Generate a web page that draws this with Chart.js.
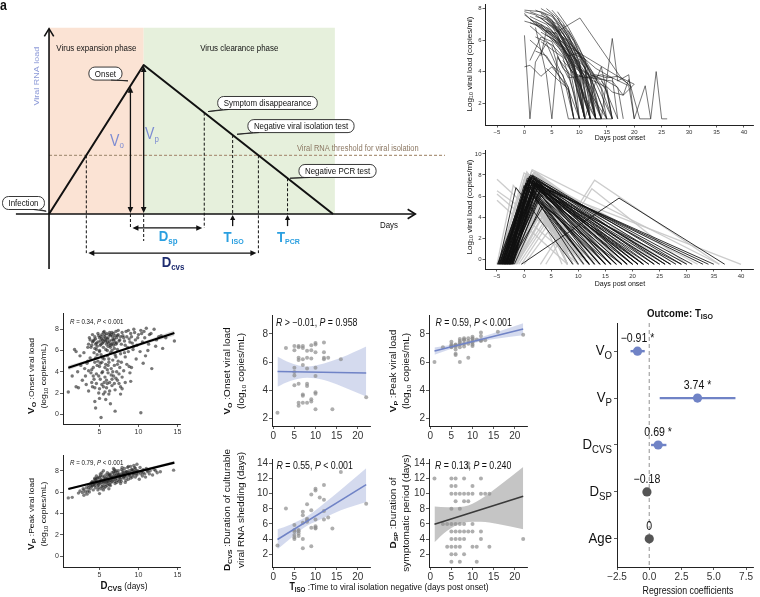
<!DOCTYPE html>
<html lang="en">
<head>
<meta charset="UTF-8">
<title>Viral load dynamics and viral isolation</title>
<style>
  html, body { margin: 0; padding: 0; background: #fff; }
  #fig { position: relative; width: 760px; height: 597px; overflow: hidden; }
  #fig canvas { position: absolute; }
</style>
</head>
<body>
<div id="fig"></div>
<script src="https://cdn.jsdelivr.net/npm/chart.js@4.4.1/dist/chart.umd.min.js"></script>
<script>
// ---------- panel a: schematic ----------
const curveDays = [0, 5, 15];
const curveLoad = [0, 8, 0];
const thresholdLoad = 3.15;
const onsetDay = 4.3, symptomDay = 8.2, isoDay = 9.7, pcrDay = 12.6;
const cvsStartDay = 1.97, cvsEndDay = 11.06;
const phaseTopLoad = 10, clearanceEndDay = 15.1;

// ---------- panel b (top): observed trajectories [day, log10 load] ----------
const observedSeries = [
  [[0,7.9],[3,7.8],[5,7.5],[8,6.2],[10,4.6],[12,1]],
  [[0,7.6],[8,5.6],[17,3.7],[20,3.2]],
  [[0,7.7],[2,7.0],[4,6.4],[7,5.2],[9,3.6],[11,1]],
  [[1,7.3],[3,7.0],[5,6.6],[7,5.5],[9,4.1],[11,1]],
  [[2,7.9],[4,7.6],[6,6.8],[8,5.4],[10,3.2],[12,1]],
  [[2,7.2],[4,6.7],[6,6.1],[9,4.4],[11,2.2],[13,1]],
  [[3,7.7],[5,7.3],[7,6.1],[9,4.5],[11,1]],
  [[3,7.0],[5,6.4],[8,5.0],[10,3.5],[12,1]],
  [[3,6.5],[5,6.1],[7,5.6],[10,4.0],[12,3.0],[14,1]],
  [[4,8.0],[6,7.4],[8,6.3],[10,4.6],[12,1]],
  [[4,7.5],[6,6.6],[8,5.2],[10,3.0],[11,1]],
  [[4,6.8],[6,6.2],[8,5.4],[11,4.0],[13,1]],
  [[5,7.6],[7,6.8],[9,5.3],[11,3.6],[13,1]],
  [[5,7.2],[7,6.0],[9,4.6],[10,1]],
  [[5,6.0],[7,5.5],[9,4.4],[12,3.7],[15,1]],
  [[6,7.4],[8,6.3],[10,4.9],[12,3.5],[14,1]],
  [[6,6.9],[8,5.9],[10,4.2],[12,1]],
  [[1,6.0],[3,5.4],[5,4.4],[7,3.8],[9,1]],
  [[0,4.3],[1,4.4],[3,3.7],[5,4.3],[8,3.0],[9,1]],
  [[0,6.3],[1,1],[2,4.6],[4,5.8],[6,4.2],[8,1]],
  [[1,4.7],[3,6.2],[5,5.9],[7,4.2],[9,3.6],[11,1]],
  [[2,6.8],[4,3.8],[5,1],[6,4.9],[8,4.0],[10,1]],
  [[3,5.0],[4,6.6],[6,6.4],[8,4.4],[10,3.2],[13,1]],
  [[5.3,6.4],[10.1,7.4],[17.4,3.7],[19.5,3.0]],
  [[4,7.1],[7,6.4],[10,5.1],[13,4.2],[16,3.6],[19,3.1],[20,1]],
  [[7,6.2],[9,5.5],[11,4.6],[13,3.7],[15,3.4],[17,3.0],[18,1]],
  [[8,5.1],[10,4.2],[12,3.8],[14,3.5],[16,3.4],[18,2.5],[20,3.2]],
  [[6,5.0],[8,3.6],[10,3.7],[12,3.6],[14,3.5],[17,1]],
  [[9,4.9],[11,4.3],[13,2.8],[15,1]],
  [[10,3.8],[11,1],[13,3.4],[14,4.3],[16,1]],
  [[11,4.4],[13,1],[14,1],[16,6.1],[17,3.4],[19,3.8],[20,1],[22,3.1],[23,1],[24,4.0],[25,1],[26,1]],
  [[2,7.5],[4,7.3],[7,6.5],[9,5.1],[11,4.8],[12,3.4],[14,1]],
  [[1,7.8],[4,7.4],[6,7.0],[8,5.8],[10,4.3],[13,1]],
  [[3,8.0],[5,7.6],[7,6.6],[9,5.7],[11,4.4],[12,1]],
  [[5,7.9],[7,7.1],[9,6.0],[11,4.2],[13,1]],
  [[6,6.1],[8,5.0],[10,5.2],[12,4.0],[14,3.0],[16,1]],
  [[7,4.7],[9,3.9],[11,3.6],[13,3.8],[15,3.6],[17,3.7],[19,3.2]],
  [[8,1],[16,1]],
  [[4,4.2],[6,3.5],[8,2.9],[10,1]],
  [[3,5.9],[5,5.4],[7,4.9],[9,2.6],[10,1]],
  [[12,3.6],[14,3.8],[16,3.6],[17,1]],
  [[10,4.8],[12,3.6],[13,1]],
  [[14,3.4],[16,2.7],[18,2.5],[19,3.5],[21,1],[23,1]],
  [[1,6.9],[3,6.3],[5,5.6],[6,4.4],[8,3.0],[9,1]],
  [[2,5.3],[4,5.0],[6,3.9],[8,2.8],[9,1]],
  [[0,7.8],[2,7.6],[5,6.9],[8,5.0],[10,2.9],[11,1]],
  [[1,7.5],[4,7.0],[6,6.2],[8,4.8],[10,1]],
  [[2,7.0],[5,6.3],[7,5.1],[9,3.8],[11,1]],
  [[3,7.4],[6,6.5],[9,4.8],[12,3.1],[13,1]],
  [[4,7.3],[7,6.2],[9,4.9],[11,3.4],[14,1]],
  [[5,7.0],[8,5.6],[10,4.0],[12,2.6],[15,1]],
  [[0,7.2],[3,6.9],[6,5.8],[9,4.2],[12,1]],
  [[6,7.8],[8,6.8],[10,5.5],[12,3.9],[14,1]],
  [[7,7.0],[9,5.9],[11,4.5],[13,3.3],[16,1]],
  [[2,6.2],[5,5.7],[8,4.6],[10,3.4],[12,1]],
  [[4,6.3],[6,5.9],[9,4.3],[12,3.5],[15,3.0],[16,1]],
  [[1,7.1],[3,6.8],[6,6.0],[9,4.9],[11,3.7],[13,1]],
  [[8,6.6],[10,5.4],[12,4.2],[14,2.9],[15,1]],
  [[3,7.6],[5,7.1],[8,5.7],[10,4.4],[11,1]],
  [[9,5.6],[11,4.5],[13,3.6],[15,2.8],[16,1]]
];

// ---------- panel b (bottom): model curves (start, peak, end) ----------
const modelFloor = -0.5;
const blackStart = [-4.8,-4.5,-4.2,-4,-3.8,-3.5,-3.2,-3,-2.8,-2.5,-4.6,-4.3,-3.9,-3.6,-3.3,-3.1,-2.9,-2.6,-2.3,-2,-4.4,-4.1,-3.7,-3.4,-3,-2.7,-2.4,-2.1,-1.8,-4.7,-3.5,-3.2,-2.8,-2.5,-2.2,-4,-3.6,-3.3,-0.5,-2.7,
  -4.9,-4.4,-4.0,-3.7,-3.4,-3.0,-2.6,-2.2,-4.2,-3.8,-3.5,-3.1,-2.7,-2.4,-4.6];
const blackPeakX = [1.2,1.5,1,0.8,1.8,2,1.5,2.2,1,0.5,1.6,2.4,1.3,0.9,2,2.6,1.1,1.7,2.1,1.4,0,0.3,1.9,2.8,3,1.2,1.8,2.5,3.2,-1.5,2.2,1,3,2,1.6,0.6,2.4,1.4,17.5,3.5,
  1.0,1.8,2.2,0.7,1.3,2.6,1.9,2.4,1.5,0.4,2.0,1.2,2.8,3.1,0.9];
const blackPeakY = [8.0,7.9,7.8,7.6,7.7,7.5,7.3,7.2,7.0,6.8,7.9,7.4,7.6,7.1,6.9,7.0,7.4,7.2,6.6,6.4,7.0,7.2,6.8,6.5,6.2,7.8,6.0,5.6,5.2,6.8,7.3,7.5,6.6,6.9,6.2,7.7,7.1,7.3,5.8,5.0,
  7.9,7.6,7.3,7.5,7.8,6.9,7.1,6.7,8.0,7.2,7.4,7.7,6.4,6.0,7.5];
const blackEnd = [20,24,16,13,28,22,18,33,14,11,26,30,19,12,25,35,17,21,15,10,12,14,23,29,20,31,13,16,18,9,27,22,24,19,15,25,34,21,37,12,
  17,21,19,14,23,26,16,18,29,12,20,15,22,17,27];
const grayStart = [null,null,null,-4.8,-4.5,-4.2,-4,-3.8,-3.5,-3.2,-3,-2.8,-2.5,-2.2,-2,-4.6,-4.4,-4,-3.6,-3.3,-3,-2.6,-2.2,-1.8,-1.5,-4.9,-4.7,-4.3,-3.9,-3.4,-2.9,-2.4,-2,-1.6,-1,-0.5,0,3,4,-3,null,-5,-4.5,-3.5,-2.5,
  -4.9,-4.6,-4.3,-4.1,-3.9,-3.7,-3.4,-3.1,-2.9,-2.7,-2.4,-2.1,-1.9,-4.8,-4.5,-4.2,-3.8,-3.5,-3.2,-3.0,-2.6,-2.3,-2.0,-1.7,-1.3,-4.4,-4.0,-3.6,-3.3,-2.8];
const grayPeakX = [-5,-5,-5,0,1.5,2,0.5,2.5,2.6,2.6,2.4,2.8,2.6,3,2.7,1,1.8,0.2,2.2,1.4,2.6,2.9,3.2,3.5,4,0.8,2,1.2,0.6,1.6,2.6,2.8,3,3.6,4.2,4.5,5,13,12.5,0,-5,-2,2.2,1.8,3,
  0.5,1.2,0.8,1.5,2.0,1.0,1.8,2.3,0.4,1.6,2.5,3.0,2.2,0.2,1.4,0.9,1.7,2.6,2.0,1.1,2.9,3.3,2.4,3.6,4.0,0.7,1.3,2.1,1.9,2.7];
const grayPeakY = [7.6,6.5,6.2,8.2,8.5,8.3,8.0,8.1,5.0,4.9,5.1,4.6,4.8,4.5,5.2,7.5,7.9,7.3,7.0,7.7,5.0,4.7,4.4,4.2,3.8,7.4,7.8,7.2,6.9,8.1,4.9,5.0,4.6,4.3,3.6,3.4,3.0,7.5,6.7,7.5,5.6,7.0,6.5,6.0,5.5,
  8.3,8.1,7.9,8.0,7.8,7.6,8.2,7.4,7.2,7.7,6.8,6.5,7.0,7.9,8.4,8.0,7.5,6.2,6.9,7.3,5.9,5.6,6.4,5.3,4.6,8.1,7.8,7.1,7.4,6.1];
const grayEnd = [12,14,10,30,36,26,22,18,8,9,10,7,11,8,12,20,24,15,16,28,9,10,11,8,9,17,32,19,14,27,12,13,10,11,9,10,8,36,30,40,8,11,9,13,12,
  14,16,12,18,20,11,22,15,10,13,12,11,14,9,25,13,17,10,12,16,9,10,12,9,8,21,15,13,19,11];

// ---------- panel c: D_CVS vs V_O and V_P ----------
const onsetPts = [
  [4.2,6.9],[4.5,7.1],[4.8,6.8],[5.0,7.2],[5.2,6.6],[5.4,7.0],[5.6,7.3],[5.8,6.9],[6.0,7.1],[6.2,6.7],
  [6.4,7.4],[6.6,7.0],[6.8,7.6],[7.0,6.8],[7.2,7.2],[7.4,7.5],[4.0,6.5],[4.4,7.3],[4.7,6.4],[5.1,6.9],
  [5.3,7.5],[5.5,6.3],[5.7,7.0],[5.9,7.6],[6.1,6.4],[6.3,7.7],[6.5,6.6],[6.7,7.3],[6.9,6.2],[7.1,7.8],
  [3.8,7.0],[3.6,6.6],[4.1,7.5],[4.6,6.1],[5.0,6.0],[5.5,7.7],[6.0,6.0],[6.8,6.5],[7.6,7.0],[7.8,6.6],
  [8.0,7.4],[8.2,6.9],[8.4,7.8],[8.6,6.3],[8.8,7.1],[9.0,7.6],[9.2,6.7],[9.4,8.0],[9.6,7.0],[9.8,6.5],
  [10.0,7.5],[10.3,7.9],[10.5,6.8],[10.8,7.2],[11.0,8.1],[11.3,6.6],[11.6,7.6],[12.0,8.0],[12.3,7.0],[12.6,7.3],
  [12.9,7.4],[13.1,6.2],[14.6,6.9],[11.7,4.3],[10.6,4.8],[9.7,5.2],[9.1,4.4],[8.7,5.9],[8.3,5.4],[10.2,5.9],
  [11.2,6.0],[9.3,6.1],[10.9,5.5],[8.9,3.9],[8.5,4.7],[7.9,3.5],
  [3.2,3.6],[3.4,4.8],[3.6,4.1],[3.8,5.3],[4.0,3.0],[4.2,4.4],[4.3,5.8],[4.4,2.5],[4.6,3.8],[4.8,5.0],
  [4.9,2.0],[5.0,4.5],[5.1,3.3],[5.2,5.6],[5.3,2.8],[5.4,4.0],[5.5,1.9],[5.6,5.2],[5.7,3.5],[5.8,4.7],
  [5.9,2.5],[6.0,5.5],[6.1,3.9],[6.2,4.9],[6.3,3.0],[6.4,5.8],[6.5,4.3],[6.6,2.7],[6.7,5.1],[6.8,3.6],
  [6.9,4.6],[7.0,2.3],[7.1,5.4],[7.2,4.0],[7.3,3.2],[7.4,5.0],[7.5,2.9],[7.6,4.4],[7.7,5.7],[7.9,2.4],
  [8.1,4.1],[8.3,3.0],[6.2,1.9],[5.7,2.1],[4.1,2.6],[3.9,3.9],[3.3,2.8],[2.8,3.2],[2.6,4.6],[2.3,2.5],
  [2.0,5.9],[1.8,6.1],[2.5,5.5],[3.0,5.8],[3.5,6.3],[2.2,4.0],[4.5,5.3],[5.0,5.9],[6.6,6.0],[7.3,6.1],
  [5.3,4.9],[6.0,4.2],[4.7,4.6],
  [1.0,2.1],[1.5,3.6],[2.0,2.6],[5.2,-0.3],[4.5,0.6],[7.0,0.3],[10.3,0.15],[4.4,1.2],[5.0,1.5],[6.4,1.0],
  [5.8,1.4],[3.6,2.2],[13.5,7.2],[12.2,6.4],[9.0,3.1],[7.7,1.9],
  [4.3,7.0],[4.6,6.7],[4.9,7.4],[5.1,6.5],[5.3,7.1],[5.5,6.8],[5.7,7.5],[5.9,6.6],[6.1,7.2],[6.3,6.9],
  [6.5,7.5],[6.7,6.7],[6.9,7.1],[7.1,6.6],[7.3,7.4],[7.5,6.9],[7.7,7.3],[4.5,6.6],[4.8,7.6],[5.2,7.3],
  [5.4,6.7],[5.6,7.8],[5.8,7.2],[6.0,6.8],[6.2,7.5],[6.4,6.5],[6.6,7.7],[6.8,7.0],[7.0,7.4],[7.2,6.7],
  [4.1,6.8],[3.9,6.3],[3.7,7.2],[4.4,6.2],[7.4,7.9],[7.9,7.7],[8.1,7.2],[8.3,6.5],[8.5,7.3],[8.7,7.9],
  [9.1,7.3],[9.5,7.7],[9.9,7.2],[10.4,7.6],[10.7,7.8],[11.4,7.5],[8.9,6.8],[9.4,6.4],
  [4.0,4.2],[4.3,3.3],[4.6,2.9],[4.9,3.6],[5.1,4.8],[5.3,3.9],[5.5,2.6],[5.7,4.4],[5.9,3.2],[6.1,4.6],
  [6.3,2.2],[6.5,3.7],[6.7,4.0],[6.9,2.9],[7.1,3.4],[7.3,4.7],[7.5,3.8],[7.7,2.6],[4.7,5.6],[5.4,5.3],
  [6.2,5.2],[7.0,5.6],[3.5,5.0],[3.1,4.3],[4.2,3.6],[5.6,3.0],[6.6,3.3],[7.8,4.9],[8.2,5.8],[8.8,4.5],
  [5.0,2.4],[6.0,2.9],[4.4,4.9],[5.8,6.1],[6.4,6.3]
];
const onsetFitX = [1.0, 14.6], onsetFitY = [4.38, 7.65];
const onsetBandX = [1, 5, 9, 14.6], onsetBandLo = [4.15, 5.25, 6.2, 7.4], onsetBandHi = [4.6, 5.45, 6.4, 7.9];

const peakPts = [
  [1.0,5.45],[1.5,5.5],[2.3,5.9],[2.5,6.1],[2.8,5.95],[3.0,6.2],[3.2,6.0],[3.3,6.4],[3.5,6.1],[3.6,6.6],
  [3.8,6.3],[3.9,6.8],[4.0,6.5],[4.1,7.0],[4.2,6.2],[4.3,6.7],[4.4,7.2],[4.5,6.4],[4.6,6.9],[4.7,7.3],
  [4.8,6.6],[4.9,7.0],[5.0,5.85],[5.0,7.4],[5.1,6.8],[5.2,7.1],[5.3,6.5],[5.4,7.5],[5.5,6.9],[5.6,7.2],
  [5.7,6.7],[5.8,7.6],[5.9,7.0],[6.0,7.3],[6.1,6.8],[6.2,7.7],[6.3,7.1],[6.4,7.4],[6.5,6.9],[6.6,7.8],
  [6.7,7.2],[6.8,7.5],[6.9,7.0],[7.0,7.9],[7.1,7.3],[7.2,7.6],[7.3,7.1],[7.4,8.0],[7.5,7.4],[7.6,7.7],
  [7.7,7.2],[7.8,8.1],[7.9,7.5],[8.0,7.8],[8.1,7.3],[8.2,8.2],[8.3,7.6],[8.4,7.9],[8.5,7.4],[8.6,8.3],
  [8.7,7.7],[8.8,8.0],[8.9,7.5],[9.0,8.4],[9.1,7.8],[9.2,8.1],[9.3,7.6],[9.4,8.5],[9.5,7.9],[9.6,8.2],
  [9.7,7.7],[9.8,8.6],[9.9,8.0],[10.0,7.8],[10.2,8.3],[10.4,7.9],[10.6,8.1],[10.8,7.7],[11.0,8.2],[11.2,7.9],
  [11.5,8.0],[11.8,7.6],[12.0,8.1],[12.4,7.8],[14.5,8.05],
  [4.2,6.9],[4.5,7.1],[4.8,7.3],[5.1,7.5],[5.4,6.6],[5.7,7.0],[6.0,6.6],[6.3,7.6],[6.6,7.0],[6.9,7.7],
  [7.2,6.9],[7.5,7.6],[7.8,7.0],[8.1,7.7],[4.4,6.6],[4.9,6.4],[5.6,6.4],[6.1,7.5],[6.4,6.6],[7.0,6.8],
  [7.7,6.8],[8.4,7.1],[9.0,7.3],[9.6,7.4],[10.1,7.2],[10.5,7.5],[3.4,5.8],[3.7,6.0],[4.0,6.9],[4.6,7.5],
  [5.2,6.3],[5.8,6.5],[6.5,7.4],[7.1,8.0],[7.9,8.3],[8.7,8.4],[9.3,8.0],[3.0,5.7],[2.9,6.3],[5.5,8.0],
  [6.8,8.2],[6.2,6.3],[5.3,7.8],[8.3,6.9],
  [4.3,6.8],[4.6,7.0],[4.9,6.7],[5.2,7.2],[5.5,7.0],[5.8,7.3],[6.1,7.1],[6.4,7.6],[6.7,7.4],[7.0,7.2],
  [7.3,7.8],[7.6,7.3],[7.9,7.7],[8.2,7.5],[8.5,7.9],[8.8,7.6],[9.1,8.1],[9.4,7.7],[9.7,8.0],[10.3,7.7],
  [4.1,6.6],[4.7,6.8],[5.3,6.9],[5.9,6.9],[6.5,7.2],[7.1,7.5],[7.7,7.5],[8.3,7.8],[8.9,7.8],[9.5,8.3],
  [5.0,6.9],[5.6,7.4],[6.2,7.0],[6.8,7.9],[7.4,7.6],[8.0,8.0],[8.6,7.8],[9.2,7.4],[10.6,7.8],[11.1,8.0],
  [11.4,7.7],[3.6,6.4],[3.9,6.6],[4.4,7.3],[5.1,7.7],[6.0,7.8],[6.9,8.1],[7.5,7.0],[8.1,7.4],[8.7,7.2],
  [9.8,7.6],[10.9,7.4],[12.2,8.0],[12.8,7.9],[4.8,6.2],[5.5,6.2],[6.3,6.7]
];
const peakFitX = [1.0, 14.6], peakFitY = [6.28, 8.75];
const peakBandX = [1, 7, 14.6], peakBandLo = [6.18, 7.4, 8.6], peakBandHi = [6.38, 7.5, 8.9];

// ---------- panel d: T_ISO vs four measures ----------
const isoOnsetX = [1,3,5,5,5,5,5,5,6,6,6,6,6,6,6,7,7,7,7,7,7,7,8,8,8,8,8,8,9,9,9,9,9,10,10,10,10,10,10,10,10,12,12,12,12,13,14,16,22];
const isoOnsetY = [2.4,7.0,7.15,6.85,5.6,5.3,5.05,4.35,7.15,7.05,6.3,6.15,4.45,3.1,2.9,7.15,7.0,6.2,5.8,3.7,3.6,3.1,6.8,6.3,5.55,4.45,4.3,3.1,7.2,6.85,6.25,3.35,3.2,7.35,7.25,6.7,5.6,5.0,3.85,3.75,2.65,7.4,6.7,6.3,6.2,6.3,2.65,6.2,3.5];
const isoPeakX = [1,3,5,5,5,5,6,6,6,6,6,7,7,7,7,7,8,8,8,8,9,9,9,10,10,10,10,10,12,12,12,12,13,14,16,22,5,6,7,8,9,10,10,11];
const isoPeakY = [6.0,7.05,7.45,7.25,7.15,7.05,7.25,7.1,6.9,6.6,6.5,7.65,7.5,7.25,7.05,6.0,7.7,7.55,7.3,7.1,7.7,7.3,6.3,7.8,7.65,7.5,7.25,7.15,8.1,7.85,7.55,7.5,7.55,7.15,8.15,7.95,7.1,7.2,7.4,7.6,7.5,7.7,7.4,7.6];
const isoCvsX = [1,3,5,5,5,5,5,5,6,6,6,6,7,7,7,7,7,8,8,8,8,9,9,9,9,10,10,10,10,10,10,11,12,12,12,12,13,14,16,22];
const isoCvsY = [3.15,8.05,5.85,5.2,5.0,4.55,4.25,4.0,5.2,5.05,4.75,4.4,7.6,7.15,6.15,4.0,2.8,8.6,6.7,6.5,6.3,9.9,7.8,5.5,3.05,10.65,10.4,6.6,5.7,5.5,5.4,9.5,11.15,9.2,7.7,6.6,6.85,5.4,12.85,8.65];
const isoSpX = [1,3,4,4,5,5,5,5,5,5,5,5,5,5,6,6,6,6,6,6,6,6,6,7,7,7,7,7,7,7,8,8,8,8,8,8,8,9,9,9,9,9,10,10,10,10,10,11,11,12,12,12,12,13,14,14,22];
const isoSpY = [12,6,3,6,12,11,10,8,6,5,4,3,2,1,12,11,10,9,6,5,4,3,2,10,8,6,5,4,3,1,12,10,9,6,5,4,2,14,13.5,10,9,5,11,10,6,5,3,3,1,12,10,5,4,10,10,3,4];
const bandX = [1, 4, 8, 12, 16, 22];
const isoOnsetFit = [5.32, 5.22], isoOnsetLo = [4.25,4.65,4.88,4.72,4.3,3.55], isoOnsetHi = [6.38,5.95,5.68,5.9,6.3,7.1];
const isoPeakFit = [6.79, 8.36], isoPeakLo = [6.52,6.84,7.19,7.46,7.67,7.9], isoPeakHi = [7.04,7.18,7.43,7.76,8.15,8.76];
const isoCvsFit = [3.95, 11.2], isoCvsLo = [2.65,4.05,5.75,6.8,7.8,8.9], isoCvsHi = [5.3,5.9,7.0,8.7,10.5,13.35];
const isoSpFit = [5.95, 9.65], isoSpLo = [3.6,5.1,6.2,6.3,6.0,5.3], isoSpHi = [8.3,8.2,8.3,9.3,10.9,13.5];
const fitEnds = [1, 22];

// ---------- panel e: regression coefficients, outcome T_ISO ----------
const coefVar = ['V', 'V', 'D', 'D', 'Age'];
const coefSub = ['O', 'P', 'CVS', 'SP', ''];
const coefEst = [-0.91, 3.74, 0.69, -0.18, 0];
const coefLo = [-1.45, 0.81, 0.14, -0.28, -0.04];
const coefHi = [-0.35, 6.68, 1.33, -0.08, 0.04];
const coefText = ['−0.91 *', '3.74 *', '0.69 *', '−0.18', '0'];
const coefSig = [true, true, true, false, false];
const coefRow = [5, 4, 3, 2, 1];

// ---------- tick labels ----------
const dayTicks = [-5, 0, 5, 10, 15, 20, 25, 30, 35, 40];
const obsLoadTicks = [2, 4, 6, 8];
const modelLoadTicks = [0, 2, 4, 6, 8, 10];
const cvsTicks = [5, 10, 15];
const vLoadTicks = [0, 2, 4, 6, 8];
const isoTicks = [0, 5, 10, 15, 20];
const dLoadTicks = [2, 4, 6, 8];
const dDaysTicks = [2, 4, 6, 8, 10, 12, 14];
const coefTicks = [-2.5, 0, 2.5, 5, 7.5];

// ---------- helpers ----------
const F = '"Liberation Sans", Arial, Helvetica, sans-serif';
const SX = 0.88;            // the figure is slightly narrowed horizontally
const BLUE = '#7083c6';
const fig = document.getElementById('fig');

Chart.defaults.font.family = F;
Chart.defaults.animation = false;
Chart.defaults.plugins.legend.display = false;
Chart.defaults.plugins.tooltip.enabled = false;

function P(t, s, o) { return Object.assign({ t: t, s: s }, o || {}); }
function fontOf(p) { return (p.i ? 'italic ' : '') + (p.b ? 'bold ' : '') + p.s + 'px ' + F; }

// mixed-style text (subscripts, bold, italic), optional rotation
function rich(ctx, x, y, parts, align, rot) {
  ctx.save();
  ctx.translate(x, y);
  ctx.scale(SX, 1);
  if (rot) ctx.rotate(rot);
  ctx.textBaseline = 'middle';
  ctx.textAlign = 'left';
  const w = parts.map(p => { ctx.font = fontOf(p); return ctx.measureText(p.t).width; });
  const total = w.reduce((a, b) => a + b, 0);
  let cx = align === 'center' ? -total / 2 : align === 'right' ? -total : 0;
  parts.forEach((p, i) => {
    ctx.font = fontOf(p);
    ctx.fillStyle = p.c || '#111';
    ctx.fillText(p.t, cx, p.dy || 0);
    cx += w[i];
  });
  ctx.restore();
}

function pts(xs, ys) { return xs.map((v, i) => ({ x: v, y: ys[i] })); }
function fmt(v) { return String(v).replace('-', '−'); }

function axis(min, max, ticks, size, cb, len) {
  return {
    type: 'linear', min: min, max: max,
    afterBuildTicks: s => { s.ticks = ticks.map(v => ({ value: v })); },
    ticks: { font: { size: size, family: F }, color: '#333', padding: 1, autoSkip: false,
             maxRotation: 0, minRotation: 0, callback: cb || fmt },
    grid: { display: true, drawOnChartArea: false, drawTicks: true, tickLength: len || 3,
            color: '#333', lineWidth: 0.8 },
    border: { display: true, color: '#222', width: 1 }
  };
}

// one canvas per sub-plot, chart area pinned to page pixels
function makeChart(box, plot, config, draw, drawBefore) {
  const cv = document.createElement('canvas');
  cv.width = box.w; cv.height = box.h;
  cv.style.left = box.x + 'px'; cv.style.top = box.y + 'px';
  cv.style.width = box.w + 'px'; cv.style.height = box.h + 'px';
  fig.appendChild(cv);
  const o = config.options;
  o.responsive = false;
  o.animation = false;
  o.events = [];
  o.layout = { autoPadding: false,
               padding: { left: 0, bottom: 0, top: plot.t - box.y, right: box.x + box.w - plot.r } };
  if (o.scales.x.display !== false) o.scales.x.afterFit = s => { s.height = box.y + box.h - plot.b; };
  if (o.scales.y.display !== false) o.scales.y.afterFit = s => { s.width = plot.l - box.x; };
  config.plugins = [{
    id: 'decor',
    beforeDatasetsDraw(chart) {
      if (!drawBefore) return;
      chart.ctx.save(); chart.ctx.translate(-box.x, -box.y);
      drawBefore(chart.ctx, chart); chart.ctx.restore();
    },
    afterDraw(chart) {
      if (!draw) return;
      chart.ctx.save(); chart.ctx.translate(-box.x, -box.y);
      draw(chart.ctx, chart); chart.ctx.restore();
    }
  }];
  return new Chart(cv, config);
}

function seg(ctx, x1, y1, x2, y2) { ctx.beginPath(); ctx.moveTo(x1, y1); ctx.lineTo(x2, y2); ctx.stroke(); }
function head(ctx, x, y, ang, len, half) {
  const c = Math.cos(ang), s = Math.sin(ang);
  ctx.beginPath();
  ctx.moveTo(x, y);
  ctx.lineTo(x - len * c + half * s, y - len * s - half * c);
  ctx.lineTo(x - len * c - half * s, y - len * s + half * c);
  ctx.closePath(); ctx.fill();
}
function chevron(ctx, x, y, ang, len) {
  const a1 = ang + Math.PI - 0.55, a2 = ang + Math.PI + 0.55;
  ctx.beginPath();
  ctx.moveTo(x + len * Math.cos(a1), y + len * Math.sin(a1));
  ctx.lineTo(x, y);
  ctx.lineTo(x + len * Math.cos(a2), y + len * Math.sin(a2));
  ctx.stroke();
}
function roundBox(ctx, x, y, w, h, r) {
  ctx.beginPath();
  ctx.moveTo(x + r, y); ctx.lineTo(x + w - r, y); ctx.arcTo(x + w, y, x + w, y + r, r);
  ctx.lineTo(x + w, y + h - r); ctx.arcTo(x + w, y + h, x + w - r, y + h, r);
  ctx.lineTo(x + r, y + h); ctx.arcTo(x, y + h, x, y + h - r, r);
  ctx.lineTo(x, y + r); ctx.arcTo(x, y, x + r, y, r);
  ctx.closePath();
}
function loadAt(d) {
  for (let i = 1; i < curveDays.length; i++) {
    if (d <= curveDays[i]) {
      const t = (d - curveDays[i - 1]) / (curveDays[i] - curveDays[i - 1]);
      return curveLoad[i - 1] + t * (curveLoad[i] - curveLoad[i - 1]);
    }
  }
  return 0;
}

// ---------- panel a ----------
const callouts = [
  { text: 'Infection', d: -1.35, v: 0.59, side: 'right', td: -0.15, tv: 0.15 },
  { text: 'Onset', d: 2.98, v: 7.54, side: 'right', td: 4.17, tv: 7.15 },
  { text: 'Symptom disappearance', d: 11.54, v: 5.96, side: 'left', td: 8.4, tv: 5.5 },
  { text: 'Negative viral isolation test', d: 13.31, v: 4.72, side: 'left', td: 9.93, tv: 4.28 },
  { text: 'Negative PCR test', d: 15.24, v: 2.31, side: 'left', td: 12.73, tv: 1.92 }
];
const VCOL = '#7d8cd2', CY = '#2a9fe0', NAVY = '#1d2b6f';
const aBox = { x: 0, y: 0, w: 445, h: 275 };
makeChart(aBox, { l: 0, t: 0, r: 445, b: 275 }, {
  type: 'line',
  data: { datasets: [{ data: pts(curveDays, curveLoad), borderColor: '#111', borderWidth: 2,
                       pointRadius: 0, borderJoinStyle: 'round' }] },
  options: { scales: {
    x: { type: 'linear', display: false, min: -2.59, max: -2.59 + 445 / 18.93 },
    y: { type: 'linear', display: false, min: -3.275, max: 11.49 } } }
}, (ctx, chart) => {
  const X = chart.scales.x, Y = chart.scales.y;
  const px = d => X.getPixelForValue(d), py = v => Y.getPixelForValue(v);
  ctx.strokeStyle = '#111'; ctx.fillStyle = '#111';
  // axes
  ctx.lineWidth = 1.6;
  seg(ctx, px(0), py(-2.95), px(0), py(9.95));
  chevron(ctx, px(0), py(9.95), -Math.PI / 2, 9);
  seg(ctx, px(-1.75), py(0), px(19.35), py(0));
  chevron(ctx, px(19.35), py(0), 0, 9);
  // V arrows
  ctx.lineWidth = 1.3;
  [[onsetDay, loadAt(onsetDay)], [5, 8]].forEach(a => {
    const x = px(a[0]), y1 = py(a[1]) + 1, y2 = py(0) - 1;
    seg(ctx, x, y1 + 4, x, y2 - 4);
    head(ctx, x, y1, -Math.PI / 2, 6, 2.8);
    head(ctx, x, y2, Math.PI / 2, 6, 2.8);
  });
  // dashed guides
  ctx.setLineDash([3, 2]); ctx.lineWidth = 1;
  seg(ctx, px(onsetDay), py(0), px(onsetDay), py(-0.75));
  seg(ctx, px(5), py(0), px(5), py(-1.45));
  seg(ctx, px(symptomDay), py(loadAt(symptomDay)), px(symptomDay), py(-0.75));
  seg(ctx, px(isoDay), py(loadAt(isoDay)), px(isoDay), py(0));
  seg(ctx, px(pcrDay), py(loadAt(pcrDay)), px(pcrDay), py(0));
  seg(ctx, px(cvsStartDay), py(thresholdLoad), px(cvsStartDay), py(-2.1));
  seg(ctx, px(cvsEndDay), py(thresholdLoad), px(cvsEndDay), py(-2.1));
  ctx.setLineDash([]);
  // horizontal double arrows
  ctx.lineWidth = 1.3;
  [[onsetDay, symptomDay, -0.75], [cvsStartDay, cvsEndDay, -2.1]].forEach(a => {
    const x1 = px(a[0]) + 2, x2 = px(a[1]) - 2, y = py(a[2]);
    seg(ctx, x1 + 4, y, x2 - 4, y);
    head(ctx, x1, y, Math.PI, 6, 2.8);
    head(ctx, x2, y, 0, 6, 2.8);
  });
  // up arrows for tests
  [isoDay, pcrDay].forEach(d => {
    seg(ctx, px(d), py(-0.65), px(d), py(-0.2));
    head(ctx, px(d), py(-0.05), -Math.PI / 2, 5, 2.6);
  });
  // callouts
  callouts.forEach(c => {
    ctx.font = '9px ' + F;
    const w = ctx.measureText(c.text).width * SX + 12, h = 13;
    const x0 = px(c.d) - w / 2, y0 = py(c.v) - h / 2;
    roundBox(ctx, x0, y0, w, h, 6);
    ctx.fillStyle = '#fff'; ctx.fill();
    ctx.strokeStyle = '#222'; ctx.lineWidth = 0.9; ctx.stroke();
    const b1 = c.side === 'right' ? x0 + w - 11 : x0 + 5, b2 = b1 + 6;
    ctx.beginPath(); ctx.moveTo(b1, y0 + h - 1); ctx.lineTo(px(c.td), py(c.tv)); ctx.lineTo(b2, y0 + h - 1);
    ctx.closePath(); ctx.fill();
    ctx.beginPath(); ctx.moveTo(b1, y0 + h); ctx.lineTo(px(c.td), py(c.tv)); ctx.lineTo(b2, y0 + h); ctx.stroke();
    rich(ctx, px(c.d), py(c.v) + 0.5, [P(c.text, 9)], 'center');
  });
  // labels
  rich(ctx, px(2.5), py(8.9), [P('Virus expansion phase', 9)], 'center');
  rich(ctx, px(10.05), py(8.9), [P('Virus clearance phase', 9)], 'center');
  rich(ctx, px(13.1), py(3.52), [P('Viral RNA threshold for viral isolation', 8.5, { c: '#8b7762' })], 'left');
  rich(ctx, px(-0.63), py(7.4), [P('Viral RNA load', 9, { c: '#8e9bd8' })], 'center', -Math.PI / 2);
  rich(ctx, px(17.96), py(-0.64), [P('Days', 9)], 'center');
  rich(ctx, px(3.59), py(3.87), [P('V', 16, { c: VCOL }), P('o', 9, { c: VCOL, dy: 4 })], 'center');
  rich(ctx, px(5.44), py(4.24), [P('V', 16, { c: VCOL }), P('p', 9, { c: VCOL, dy: 4 })], 'center');
  rich(ctx, px(6.29), py(-1.25), [P('D', 15, { b: 1, c: CY }), P('sp', 9, { b: 1, c: CY, dy: 4 })], 'center');
  rich(ctx, px(isoDay + 0.05), py(-1.27), [P('T', 15, { b: 1, c: CY }), P('ISO', 8, { b: 1, c: CY, dy: 4 })], 'center');
  rich(ctx, px(pcrDay + 0.05), py(-1.27), [P('T', 15, { b: 1, c: CY }), P('PCR', 8, { b: 1, c: CY, dy: 4 })], 'center');
  rich(ctx, px(6.55), py(-2.65), [P('D', 15, { b: 1, c: NAVY }), P('cvs', 9, { b: 1, c: NAVY, dy: 4 })], 'center');
  rich(ctx, 0, 6, [P('a', 14, { b: 1 })], 'left');
}, (ctx, chart) => {
  const X = chart.scales.x, Y = chart.scales.y;
  const px = d => X.getPixelForValue(d), py = v => Y.getPixelForValue(v);
  ctx.fillStyle = '#fbe3d4';
  ctx.fillRect(px(0), py(phaseTopLoad), px(5) - px(0), py(0) - py(phaseTopLoad));
  ctx.fillStyle = '#e6f0dc';
  ctx.fillRect(px(5), py(phaseTopLoad), px(clearanceEndDay) - px(5), py(0) - py(phaseTopLoad));
  ctx.strokeStyle = '#ad967d'; ctx.lineWidth = 1.1; ctx.setLineDash([3, 2]);
  seg(ctx, px(0), py(thresholdLoad), 445, py(thresholdLoad));
  ctx.setLineDash([]);
});

// ---------- panel b ----------
const b1Box = { x: 420, y: 0, w: 340, h: 143 };
makeChart(b1Box, { l: 485, t: 4, r: 753, b: 125 }, {
  type: 'line',
  data: { datasets: observedSeries.map(s => ({
    data: s.map(p => ({ x: p[0], y: p[1] })), borderColor: 'rgba(30,30,30,0.72)',
    borderWidth: 0.85, pointRadius: 0 })) },
  options: { scales: { x: axis(-7.19, 41.64, dayTicks, 6, fmt, 2.5), y: axis(0.61, 8.25, obsLoadTicks, 6, fmt, 2.5) } }
}, ctx => {
  rich(ctx, 620, 138, [P('Days post onset', 8)], 'center');
  rich(ctx, 470, 64, [P('Log', 8), P('10', 5.5, { dy: 2 }), P(' viral load (copies/ml)', 8)], 'center', -Math.PI / 2);
});

function modelCurve(s, px, py, e) {
  const out = [];
  if (s !== null) out.push({ x: s, y: modelFloor });
  out.push({ x: px, y: py });
  out.push({ x: e, y: modelFloor });
  return out;
}
const b2Sets = [];
grayPeakX.forEach((v, i) => b2Sets.push({ data: modelCurve(grayStart[i], v, grayPeakY[i], grayEnd[i]),
  borderColor: 'rgba(195,195,195,0.85)', borderWidth: 1.3, pointRadius: 0, order: 1 }));
blackPeakX.forEach((v, i) => b2Sets.push({ data: modelCurve(blackStart[i], v, blackPeakY[i], blackEnd[i]),
  borderColor: 'rgba(15,15,15,0.85)', borderWidth: 1, pointRadius: 0, order: 0 }));
const b2Box = { x: 420, y: 143, w: 340, h: 147 };
makeChart(b2Box, { l: 485, t: 150, r: 753, b: 269 }, {
  type: 'line',
  data: { datasets: b2Sets },
  options: { scales: { x: axis(-7.21, 42.21, dayTicks, 6, fmt, 2.5), y: axis(-0.95, 10.38, modelLoadTicks, 6, fmt, 2.5) } }
}, ctx => {
  rich(ctx, 620, 284, [P('Days post onset', 8)], 'center');
  rich(ctx, 470, 207, [P('Log', 8), P('10', 5.5, { dy: 2 }), P(' viral load (copies/ml)', 8)], 'center', -Math.PI / 2);
});

// ---------- panels c and d: scatter + fit ----------
function regChart(o) {
  const ds = [];
  ds.push({ type: 'line', data: pts(o.bx, o.lo), borderWidth: 0, pointRadius: 0, fill: false,
            cubicInterpolationMode: 'monotone', order: 3 });
  ds.push({ type: 'line', data: pts(o.bx, o.hi), borderWidth: 0, pointRadius: 0, fill: '-1',
            backgroundColor: o.bandColor, cubicInterpolationMode: 'monotone', order: 2 });
  ds.push({ type: 'scatter', data: pts(o.xs, o.ys), pointRadius: o.r, pointBorderWidth: 0,
            pointBackgroundColor: o.ptColor, order: 1 });
  ds.push({ type: 'line', data: pts(o.fx, o.fy), borderColor: o.lineColor, borderWidth: o.lw,
            pointRadius: 0, order: 0 });
  return makeChart(o.box, o.plot, {
    type: 'scatter', data: { datasets: ds },
    options: { scales: { x: axis(o.xr[0], o.xr[1], o.xt, o.ts), y: axis(o.yr[0], o.yr[1], o.yt, o.ts) } }
  }, o.draw);
}
function corText(ctx, x, y, s, rel, r, p) {
  rich(ctx, x, y, [P('R', s, { i: 1 }), P(' ' + rel + ' ' + r + ', ', s), P('P', s, { i: 1 }), P(' ' + p, s)], 'left');
}

const cx = [0.32, 15.32];
regChart({ box: { x: 0, y: 300, w: 200, h: 140 }, plot: { l: 63, t: 313, r: 180, b: 424 },
  xr: cx, yr: [-0.91, 9.53], xt: cvsTicks, yt: vLoadTicks, ts: 7,
  xs: onsetPts.map(p => p[0]), ys: onsetPts.map(p => p[1]), r: 1.7, ptColor: 'rgba(35,35,35,0.62)',
  fx: onsetFitX, fy: onsetFitY, lineColor: '#000', lw: 2.2,
  bx: onsetBandX, lo: onsetBandLo, hi: onsetBandHi, bandColor: 'rgba(150,150,150,0.35)',
  draw: ctx => {
    corText(ctx, 70, 322, 7, '=', '0.34', '< 0.001');
    rich(ctx, 32, 376, [P('V', 10, { b: 1 }), P('O', 7, { b: 1, dy: 3 }), P(' :Onset viral load', 8.5)], 'center', -Math.PI / 2);
    rich(ctx, 44, 376, [P('(log', 8.5), P('10', 6, { dy: 3 }), P(' copies/mL)', 8.5)], 'center', -Math.PI / 2);
  } });
regChart({ box: { x: 0, y: 440, w: 200, h: 157 }, plot: { l: 63, t: 455, r: 180, b: 567 },
  xr: cx, yr: [-1.03, 9.47], xt: cvsTicks, yt: vLoadTicks, ts: 7,
  xs: peakPts.map(p => p[0]), ys: peakPts.map(p => p[1]), r: 1.7, ptColor: 'rgba(35,35,35,0.58)',
  fx: peakFitX, fy: peakFitY, lineColor: '#000', lw: 2.2,
  bx: peakBandX, lo: peakBandLo, hi: peakBandHi, bandColor: 'rgba(150,150,150,0.35)',
  draw: ctx => {
    corText(ctx, 70, 463, 7, '=', '0.79', '< 0.001');
    rich(ctx, 32, 514, [P('V', 10, { b: 1 }), P('P', 7, { b: 1, dy: 3 }), P(' :Peak viral load', 8.5)], 'center', -Math.PI / 2);
    rich(ctx, 44, 514, [P('(log', 8.5), P('10', 6, { dy: 3 }), P(' copies/mL)', 8.5)], 'center', -Math.PI / 2);
    rich(ctx, 124, 586, [P('D', 11, { b: 1 }), P('CVS', 8, { b: 1, dy: 3 }), P(' (days)', 9.5)], 'center');
  } });

const dx = [-0.3, 22.9];
const dPt = 'rgba(140,140,140,0.7)';
const dBand = 'rgba(112,131,198,0.3)';
regChart({ box: { x: 210, y: 300, w: 165, h: 140 }, plot: { l: 272, t: 315, r: 370, b: 426 },
  xr: dx, yr: [1.45, 9.35], xt: isoTicks, yt: dLoadTicks, ts: 10,
  xs: isoOnsetX, ys: isoOnsetY, r: 2, ptColor: dPt,
  fx: fitEnds, fy: isoOnsetFit, lineColor: BLUE, lw: 1.5,
  bx: bandX, lo: isoOnsetLo, hi: isoOnsetHi, bandColor: dBand,
  draw: ctx => {
    corText(ctx, 276, 323.5, 10, '>', '−0.01', '= 0.958');
    rich(ctx, 228, 371, [P('V', 10, { b: 1 }), P('O', 7, { b: 1, dy: 3 }), P(' :Onset viral load', 10)], 'center', -Math.PI / 2);
    rich(ctx, 242, 371, [P('(log', 10), P('10', 7, { dy: 3 }), P(' copies/mL)', 10)], 'center', -Math.PI / 2);
  } });
regChart({ box: { x: 375, y: 300, w: 165, h: 140 }, plot: { l: 429, t: 315, r: 527, b: 426 },
  xr: dx, yr: [1.45, 9.35], xt: isoTicks, yt: dLoadTicks, ts: 10,
  xs: isoPeakX, ys: isoPeakY, r: 2, ptColor: dPt,
  fx: fitEnds, fy: isoPeakFit, lineColor: BLUE, lw: 1.5,
  bx: bandX, lo: isoPeakLo, hi: isoPeakHi, bandColor: dBand,
  draw: ctx => {
    corText(ctx, 435.5, 323.5, 10, '=', '0.59', '< 0.001');
    rich(ctx, 394, 371, [P('V', 10, { b: 1 }), P('P', 7, { b: 1, dy: 3 }), P(' :Peak viral load', 10)], 'center', -Math.PI / 2);
    rich(ctx, 407, 371, [P('(log', 10), P('10', 7, { dy: 3 }), P(' copies/mL)', 10)], 'center', -Math.PI / 2);
  } });
regChart({ box: { x: 210, y: 440, w: 290, h: 157 }, plot: { l: 272, t: 459, r: 370, b: 567 },
  xr: dx, yr: [0.32, 14.57], xt: isoTicks, yt: dDaysTicks, ts: 10,
  xs: isoCvsX, ys: isoCvsY, r: 2, ptColor: dPt,
  fx: fitEnds, fy: isoCvsFit, lineColor: BLUE, lw: 1.5,
  bx: bandX, lo: isoCvsLo, hi: isoCvsHi, bandColor: dBand,
  draw: ctx => {
    corText(ctx, 276.5, 466.5, 10, '=', '0.55', '< 0.001');
    rich(ctx, 228, 510, [P('D', 10, { b: 1 }), P('CVS', 7, { b: 1, dy: 3 }), P(' :Duration of culturable', 10)], 'center', -Math.PI / 2);
    rich(ctx, 242, 510, [P('viral RNA shedding (days)', 10)], 'center', -Math.PI / 2);
    rich(ctx, 389, 587, [P('T', 10, { b: 1 }), P('ISO', 7, { b: 1, dy: 3 }), P(' :Time to viral isolation negative (days post onset)', 9.5)], 'center');
  } });
regChart({ box: { x: 375, y: 440, w: 165, h: 140 }, plot: { l: 429, t: 459, r: 527, b: 567 },
  xr: dx, yr: [0.32, 14.57], xt: isoTicks, yt: dDaysTicks, ts: 10,
  xs: isoSpX, ys: isoSpY, r: 2, ptColor: dPt,
  fx: fitEnds, fy: isoSpFit, lineColor: '#3a3a3a', lw: 1.5,
  bx: bandX, lo: isoSpLo, hi: isoSpHi, bandColor: 'rgba(140,140,140,0.5)',
  draw: ctx => {
    corText(ctx, 435, 466.5, 10, '=', '0.13', '= 0.240');
    rich(ctx, 394, 513, [P('D', 10, { b: 1 }), P('SP', 7, { b: 1, dy: 3 }), P(' :Duration of', 10)], 'center', -Math.PI / 2);
    rich(ctx, 407, 513, [P('symptomatic period (days)', 10)], 'center', -Math.PI / 2);
  } });

// ---------- panel e: forest plot ----------
const eBox = { x: 545, y: 300, w: 215, h: 297 };
const eSets = coefEst.map((v, i) => ({
  type: 'line', data: [{ x: coefLo[i], y: coefRow[i] }, { x: coefHi[i], y: coefRow[i] }],
  borderColor: coefSig[i] ? BLUE : '#555', borderWidth: 2.4, pointRadius: 0, order: 1 }));
eSets.push({ type: 'scatter', data: pts(coefEst, coefRow), pointRadius: 4.6, pointBorderWidth: 0,
  pointBackgroundColor: coefSig.map(s => s ? BLUE : '#555'), order: 0 });
makeChart(eBox, { l: 617, t: 323, r: 753, b: 567 }, {
  type: 'scatter', data: { datasets: eSets },
  options: { scales: {
    x: axis(-2.5, 8.04, coefTicks, 10, v => v.toFixed(1).replace('-', '−'), 3),
    y: axis(0.4, 5.6, coefRow, 10, () => '', 3) } }
}, (ctx, chart) => {
  const X = chart.scales.x, Y = chart.scales.y;
  coefEst.forEach((v, i) => {
    rich(ctx, eBox.x + X.getPixelForValue(v), eBox.y + Y.getPixelForValue(coefRow[i]) - 12.5, [P(coefText[i], 12)], 'center');
    const parts = [P(coefVar[i], 15)];
    if (coefSub[i]) parts.push(P(coefSub[i], 11, { dy: 5 }));
    rich(ctx, 612, eBox.y + Y.getPixelForValue(coefRow[i]), parts, 'right');
  });
  rich(ctx, 680, 314, [P('Outcome: T', 11, { b: 1 }), P('ISO', 8, { b: 1, dy: 3 })], 'center');
  rich(ctx, 688, 591, [P('Regression coefficients', 10)], 'center');
}, (ctx, chart) => {
  const X = chart.scales.x, a = chart.chartArea;
  const zx = eBox.x + X.getPixelForValue(0);
  ctx.strokeStyle = '#a5a5a5'; ctx.lineWidth = 1.2; ctx.setLineDash([4, 3]);
  seg(ctx, zx, eBox.y + a.top, zx, eBox.y + a.bottom);
  ctx.setLineDash([]);
});
</script>
</body>
</html>
